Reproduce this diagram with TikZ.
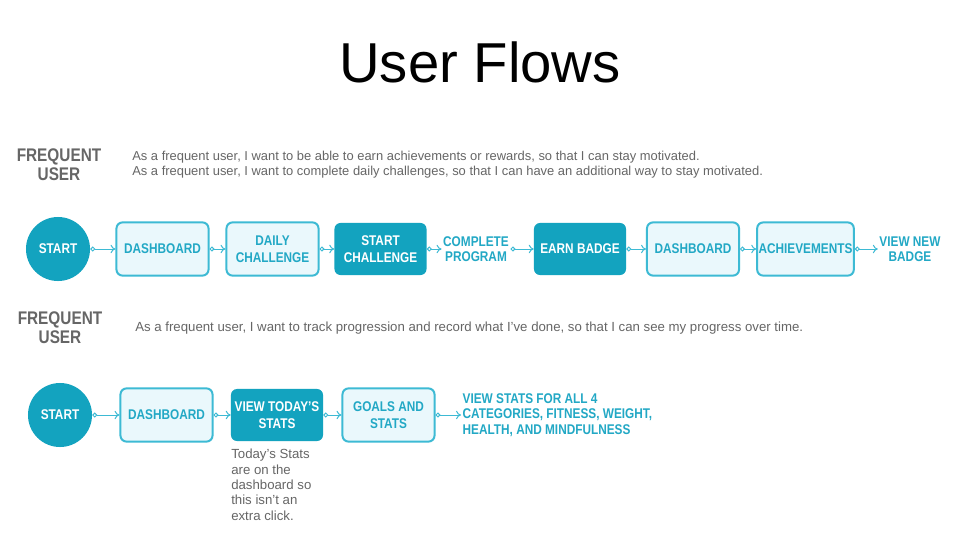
\documentclass[tikz,border=0pt]{standalone}
\usepackage{fontspec}
\setmainfont{Liberation Sans}
\newfontfamily\flowfont[FakeStretch=0.84]{Liberation Sans}
\usetikzlibrary{arrows.meta,shapes.geometric}
\definecolor{teal}{HTML}{13A3BF}
\definecolor{tealline}{HTML}{3DBAD4}
\definecolor{tealtext}{HTML}{22A8C5}
\definecolor{palefill}{HTML}{EAF8FC}
\definecolor{greytext}{HTML}{666666}
\tikzstyle{startnode} = [circle, fill=teal, text=white, minimum size=1.6cm, inner sep=0pt, font=\flowfont\bfseries\fontsize{10}{12}\selectfont]
\tikzstyle{screen} = [rectangle, draw=tealline, line width=0.5mm, fill=palefill, text=tealtext, rounded corners=0.15cm, align=center, minimum width=2.3cm, minimum height=1.33cm, inner sep=1pt, font=\flowfont\bfseries\fontsize{10}{12}\selectfont]
\tikzstyle{action} = [rectangle, fill=teal, text=white, rounded corners=0.15cm, align=center, minimum width=2.3cm, minimum height=1.3cm, inner sep=1pt, font=\flowfont\bfseries\fontsize{10}{12}\selectfont]
\tikzstyle{outcome} = [text=tealtext, align=center, inner sep=1pt, font=\flowfont\bfseries\fontsize{10}{11}\selectfont]
\tikzstyle{persona} = [text=greytext, align=center, font=\flowfont\bfseries\fontsize{13}{13.5}\selectfont]
\tikzstyle{story} = [text=greytext, align=left, anchor=west, inner sep=0pt, font=\fontsize{9.2}{10.6}\selectfont]
\tikzstyle{connector} = [draw=tealline, line width=0.25mm, {Circle[open,length=3.5pt,width=3.5pt]}-{To[length=3.5pt,width=6pt]}]

\begin{document}
\begin{tikzpicture}[x=0.025cm, y=-0.025cm]
        \useasboundingbox [fill=white] (0,0) rectangle (960,540);
        \node (title) at (480,62) [font=\fontsize{40}{44}\selectfont] {User Flows};

        \node (persona-a) at (59,165) [persona] {FREQUENT\\USER};
        \node (story-a) at (132,164.5) [story] {As a frequent user, I want to be able to earn achievements or rewards, so that I can stay motivated.\\As a frequent user, I want to complete daily challenges, so that I can have an additional way to stay motivated.};

        \node (start-a) at (58,249) [startnode] {START};
        \node (dash-a) at (162.5,249) [screen] {DASHBOARD};
        \node (daily) at (272.5,249) [screen] {DAILY\\CHALLENGE};
        \node (startch) at (380.5,249) [action] {START\\CHALLENGE};
        \node (complete) at (476,249) [outcome] {COMPLETE\\PROGRAM};
        \node (badge) at (580,249) [action] {EARN BADGE};
        \node (dash-b) at (693,249) [screen] {DASHBOARD};
        \node (achieve) at (805.5,249) [screen] {ACHIEVEMENTS};
        \node (newbadge) at (910,249) [outcome] {VIEW NEW\\BADGE};
        \draw [connector] (start-a) -- (dash-a);
        \draw [connector] (dash-a) -- (daily);
        \draw [connector] (daily) -- (startch);
        \draw [connector] (startch) -- (complete);
        \draw [connector] (complete) -- (badge);
        \draw [connector] (badge) -- (dash-b);
        \draw [connector] (dash-b) -- (achieve);
        \draw [connector] (achieve) -- (newbadge);

        \node (persona-b) at (60,328) [persona] {FREQUENT\\USER};
        \node (story-b) at (135,328) [story, font=\fontsize{9.4}{10.6}\selectfont] {As a frequent user, I want to track progression and record what I’ve done, so that I can see my progress over time.};

        \node (start-b) at (60,415) [startnode] {START};
        \node (dash-c) at (166.5,415) [screen] {DASHBOARD};
        \node (today) at (277,415) [action] {VIEW TODAY’S\\STATS};
        \node (goals) at (388.5,415) [screen] {GOALS AND\\STATS};
        \node (allstats) at (461,415) [outcome, anchor=west, align=left] {VIEW STATS FOR ALL 4\\CATEGORIES, FITNESS, WEIGHT,\\HEALTH, AND MINDFULNESS};
        \node (note) at (231,449) [anchor=north west, align=left, inner sep=0pt, text=greytext, font=\fontsize{9.4}{10.9}\selectfont] {Today’s Stats\\are on the\\dashboard so\\this isn’t an\\extra click.};
        \draw [connector] (start-b) -- (dash-c);
        \draw [connector] (dash-c) -- (today);
        \draw [connector] (today) -- (goals);
        \draw [connector] (goals) -- (allstats);
    \end{tikzpicture}
\end{document}
